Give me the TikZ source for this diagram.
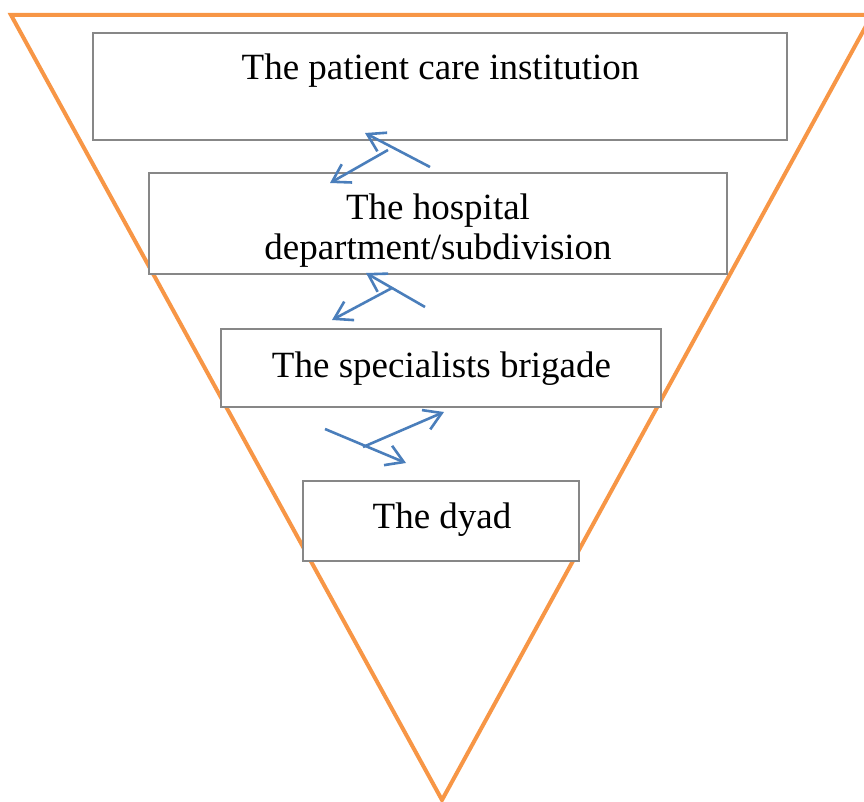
\documentclass[tikz,border=0pt]{standalone}
\usepackage{fontspec}
\setmainfont{Liberation Serif}
\usetikzlibrary{arrows.meta}
\definecolor{triorange}{HTML}{F79646}
\definecolor{arrblue}{HTML}{4A7EBB}
\definecolor{boxgray}{HTML}{878787}
\begin{document}
\begin{tikzpicture}[x=1pt,y=-1pt,
  levelbox/.style={draw=boxgray,line width=1.6pt,fill=white,rectangle,inner sep=0pt},
  leveltext/.style={anchor=base,inner sep=0pt,align=center,font=\fontsize{37}{40}\selectfont},
  flow/.style={draw=arrblue,line width=2.6pt,-{Straight Barb[length=17pt,width=21pt,line width=2.6pt]}}]
\useasboundingbox (0,0) rectangle (864,802);
% inverted triangle
\draw[triorange,line width=4pt,line join=miter] (11,15) -- (872,15) -- (442,800) -- cycle;
% boxes
\node[levelbox,minimum width=694pt,minimum height=107pt] (b1) at (440,86.5) {};
\node[levelbox,minimum width=578pt,minimum height=101pt] (b2) at (438,223.5) {};
\node[levelbox,minimum width=440pt,minimum height=78pt] (b3) at (441,368) {};
\node[levelbox,minimum width=276pt,minimum height=80pt] (b4) at (441,521) {};
% texts
\node[leveltext] (t1) at (440.5,80) {The patient care institution};
\node[leveltext] (t2a) at (438,220) {The hospital};
\node[leveltext] (t2b) at (438,260) {department/subdivision};
\node[leveltext] (t3) at (441.5,377) {The specialists brigade};
\node[leveltext] (t4) at (442,528) {The dyad};
% arrows between levels
\coordinate (a1s) at (430,167); \coordinate (a1e) at (365,133);
\coordinate (a2s) at (388,150); \coordinate (a2e) at (330,183);
\coordinate (a3s) at (425,307); \coordinate (a3e) at (366,273);
\coordinate (a4s) at (392,288); \coordinate (a4e) at (332,320);
\coordinate (a5s) at (325,429); \coordinate (a5e) at (406,463);
\coordinate (a6s) at (363,447); \coordinate (a6e) at (444,412);
\draw[flow] (a1s) -- (a1e);
\draw[flow] (a2s) -- (a2e);
\draw[flow] (a3s) -- (a3e);
\draw[flow] (a4s) -- (a4e);
\draw[flow] (a5s) -- (a5e);
\draw[flow] (a6s) -- (a6e);
\end{tikzpicture}
\end{document}
